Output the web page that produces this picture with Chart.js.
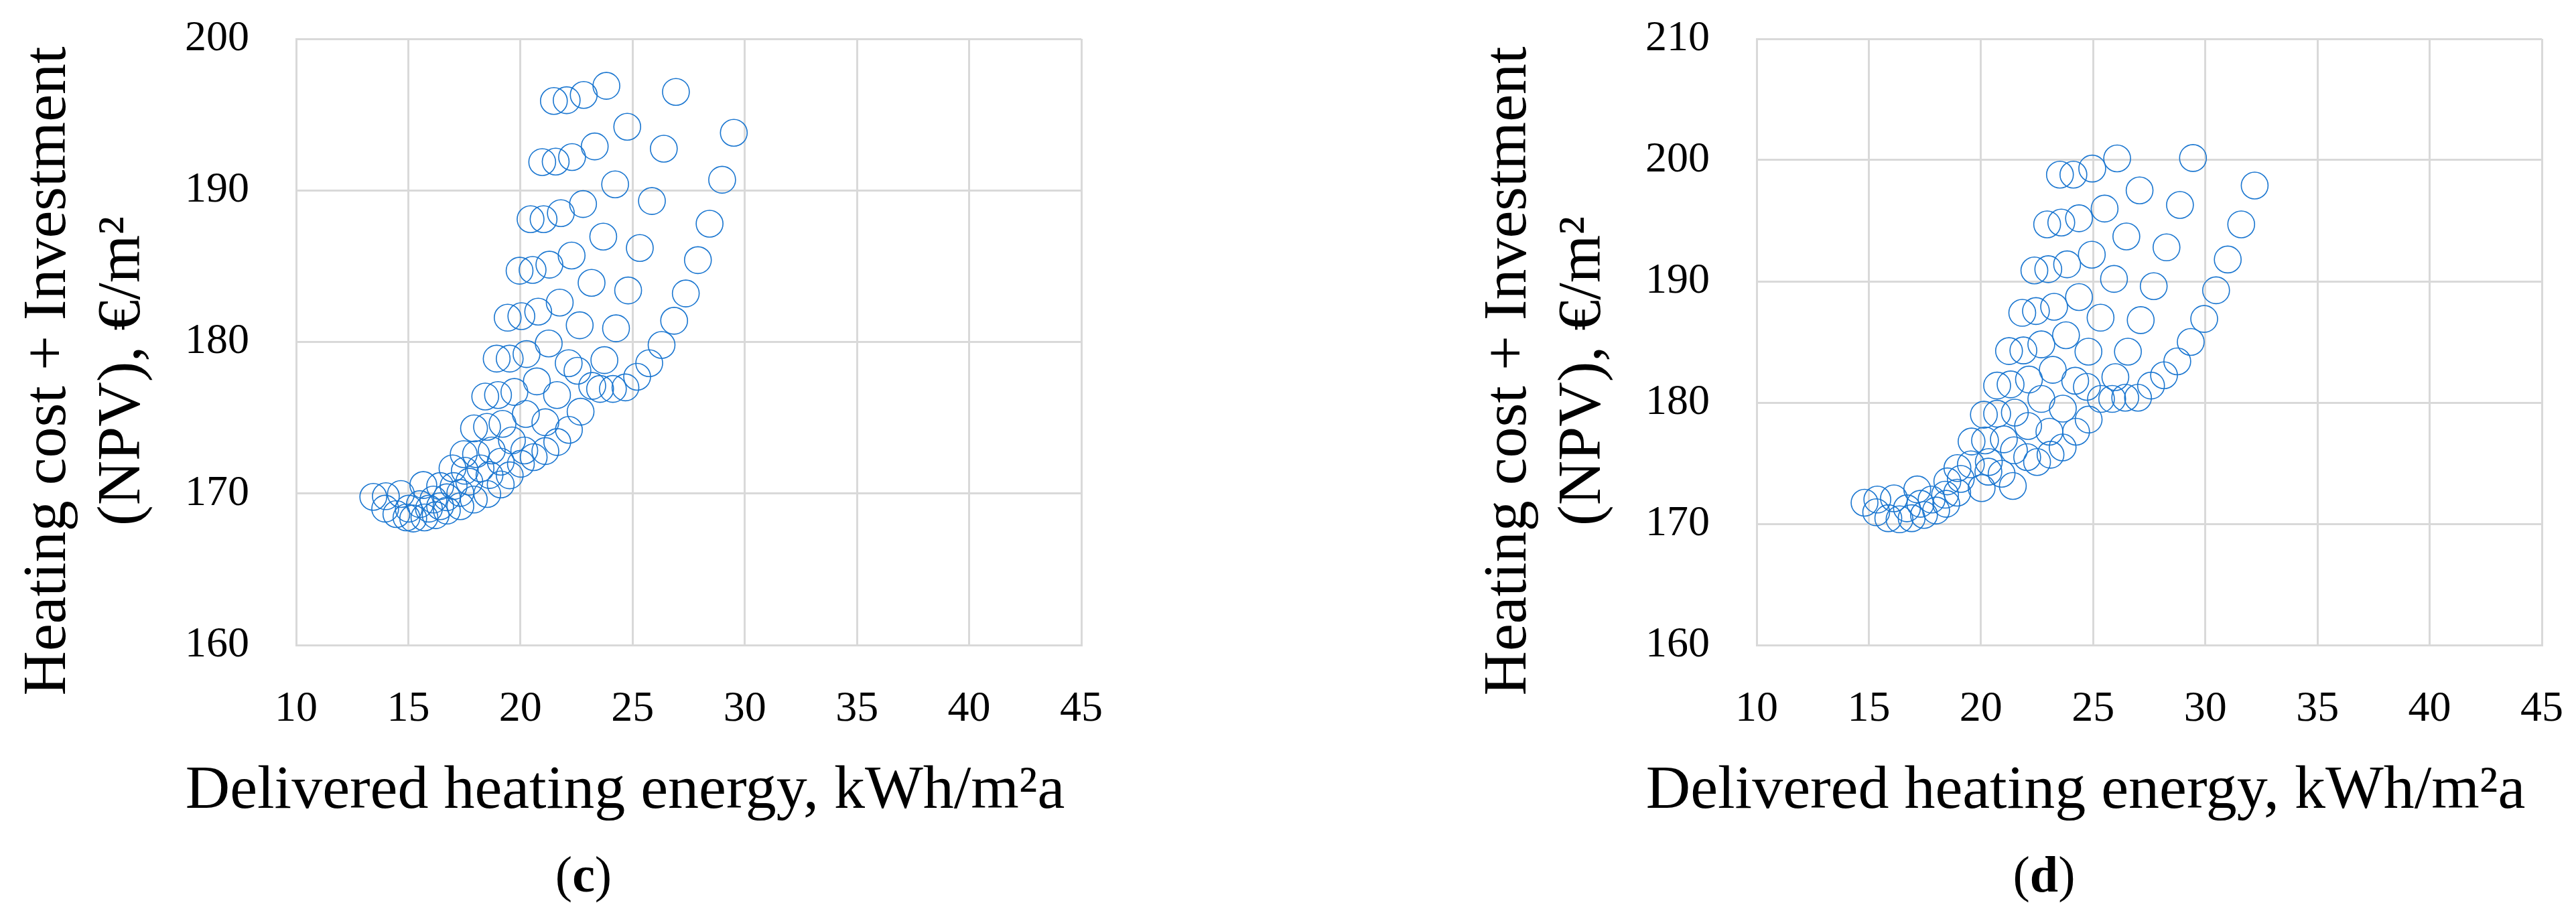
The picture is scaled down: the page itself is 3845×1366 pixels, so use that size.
<!DOCTYPE html>
<html>
<head>
<meta charset="utf-8">
<script src="https://cdn.jsdelivr.net/npm/chart.js@4.4.0/dist/chart.umd.min.js"></script>
<style>
  body { margin: 0; width: 3845px; height: 1366px; background: #fff; overflow: hidden; position: relative; }
  canvas { position: absolute; top: 0; }
</style>
</head>
<body>
<canvas id="chartC" width="1665" height="1366" style="left:0px"></canvas>
<canvas id="chartD" width="1665" height="1366" style="left:2180px"></canvas>
<script>
// ---- data ----
const xTickValues = [10, 15, 20, 25, 30, 35, 40, 45];
const yTicksC = [160, 170, 180, 190, 200];
const yTicksD = [160, 170, 180, 190, 200, 210];

const xTitle = "Delivered heating energy, kWh/m\u00B2a";
const yTitleLines = ["Heating cost + Investment", "(NPV), \u20AC/m\u00B2"];

// panel (c)
const energyC = [
  21.49, 22.06, 22.82, 23.83, 26.93, 24.76, 29.51, 26.39,
  20.97, 21.57, 22.30, 23.31, 24.22, 28.99, 25.86,
  20.45, 21.03, 21.80, 22.79, 23.69, 28.43, 25.32,
  19.96, 20.54, 21.29, 22.28, 23.17, 27.91, 24.80,
  19.43, 20.04, 20.79, 21.75, 22.64, 27.37, 24.26, 26.85,
  18.94, 19.52, 20.27, 21.26, 26.29, 25.74, 23.74, 22.15, 22.54, 25.20, 24.68, 24.12, 23.55, 23.20, 20.73, 21.63,
  18.43, 19.00, 19.73, 20.24, 22.68, 21.11, 22.16, 21.64, 21.11, 20.59, 17.93, 18.51, 19.20,
  17.47, 18.02, 18.72, 19.62, 20.17, 20.02, 16.97, 17.52, 18.22, 19.12, 19.52,
  15.67, 16.42, 17.02, 17.72, 18.62, 19.12,
  18.52, 17.92, 17.32, 16.72, 16.22, 15.72, 15.22, 14.92, 14.47, 13.97, 13.44, 14.00, 14.67,
  16.12, 16.72, 17.32, 15.52, 15.02, 15.92, 16.42
];
const costC = [
  195.9, 195.95, 196.3, 196.9, 196.5, 194.2, 193.8, 192.75,
  191.87, 191.9, 192.2, 192.9, 190.4, 190.7, 189.3,
  188.1, 188.1, 188.5, 189.1, 186.95, 187.8, 186.2,
  184.7, 184.75, 185.1, 185.7, 183.9, 185.4, 183.4,
  181.6, 181.7, 182.0, 182.6, 181.1, 183.2, 180.9, 181.4,
  178.9, 178.9, 179.2, 179.9, 179.8, 178.6, 178.8, 178.6, 178.1, 177.7, 177.0, 176.9, 176.9, 177.1, 177.4, 176.5,
  176.4, 176.5, 176.7, 175.25, 175.4, 174.7, 174.2, 173.4, 172.8, 172.4, 174.3, 174.4, 174.6,
  172.6, 172.6, 172.84, 173.5, 172.84, 171.96, 171.66, 171.5, 171.66, 172.1, 171.2,
  170.56, 170.49, 170.49, 170.78, 171.22, 170.6,
  169.97, 169.6, 169.16, 168.87, 168.57, 168.42, 168.35, 168.42, 168.64, 169.0, 169.78, 169.82, 169.97,
  169.6, 169.75, 170.04, 169.3, 169.0, 169.0, 169.16
];

// panel (d)
const energyD = [
  23.52, 24.12, 24.96, 26.07, 29.45, 27.07, 28.87, 32.2,
  22.95, 23.58, 24.37, 25.51, 26.48, 28.27, 31.6,
  22.38, 23.00, 23.84, 24.94, 25.93, 27.70, 30.48, 31.0,
  21.84, 22.45, 23.26, 24.37, 25.33, 27.12, 29.95,
  21.25, 21.89, 22.69, 23.79, 24.79, 26.55, 29.35,
  28.75, 28.16, 27.58, 27.00, 26.43, 25.85, 25.35, 25.99, 24.72, 24.20, 23.20,
  20.72, 21.32, 22.14, 22.69, 23.65, 24.80, 24.24, 23.05, 22.10, 20.13, 20.72, 21.51,
  23.64, 23.10, 22.50, 22.06, 21.47, 19.58, 20.18, 21.02,
  20.92, 21.42, 20.33, 18.95, 19.55, 20.35, 18.50, 19.10,
  20.03, 18.94, 18.40, 17.80, 17.30, 16.70, 18.45, 18.00, 17.46, 16.91, 16.37, 15.87, 15.33, 14.81, 15.38, 16.12, 17.16
];
const costD = [
  198.8, 198.8, 199.3, 200.14, 200.17, 197.5, 196.3, 197.9,
  194.7, 194.85, 195.2, 196.0, 193.7, 192.8, 194.7,
  190.9, 191.0, 191.4, 192.2, 190.2, 189.6, 189.26, 191.8,
  187.4, 187.55, 187.9, 188.7, 187.0, 186.8, 186.9,
  184.25, 184.3, 184.8, 185.55, 184.2, 184.2, 185.0,
  183.4, 182.25, 181.4, 180.4, 180.4, 180.3, 180.3, 182.1, 181.3, 181.8, 182.7,
  181.4, 181.5, 181.9, 180.3, 179.5, 178.6, 177.6, 177.6, 178.07, 179.0, 179.08, 179.17,
  176.3, 175.7, 175.1, 175.5, 176.06, 176.79, 176.88, 176.97,
  174.13, 173.12, 174.3, 174.6, 174.9, 175.1, 173.5, 173.7,
  172.94, 172.57, 172.4, 172.0, 171.65, 171.28, 171.65, 171.1, 170.73, 170.46, 170.37, 170.46, 170.95, 171.74, 172.0, 172.1, 172.84
];

// ---- styling ----
const FONT = '"Liberation Serif", "Times New Roman", serif';
const gridColor = "#d9d9d9";
const markerColor = "#1a76d0";

// axis titles and panel letter, placed like the original layout
const titlesPlugin = {
  id: "panelTitles",
  afterDraw(chart, args, opts) {
    const ctx = chart.ctx;
    ctx.save();
    ctx.fillStyle = "#000";
    ctx.textAlign = "center";
    ctx.textBaseline = "alphabetic";
    ctx.font = "92px " + FONT;
    ctx.fillText(xTitle, 933, 1206);

    const baselines = [97, 208];
    yTitleLines.forEach((line, i) => {
      ctx.save();
      ctx.translate(baselines[i], 554);
      ctx.rotate(-Math.PI / 2);
      ctx.fillText(line, 0, 0);
      ctx.restore();
    });

    // "(c)" with bold letter
    ctx.textAlign = "left";
    const reg = "76px " + FONT;
    const bold = "bold 76px " + FONT;
    ctx.font = reg;
    const wp = ctx.measureText("(").width;
    const wq = ctx.measureText(")").width;
    ctx.font = bold;
    const wl = ctx.measureText(opts.letter).width;
    let x = 871 - (wp + wl + wq) / 2;
    ctx.font = reg;
    ctx.fillText("(", x, 1331);
    x += wp;
    ctx.font = bold;
    ctx.fillText(opts.letter, x, 1331);
    x += wl;
    ctx.font = reg;
    ctx.fillText(")", x, 1331);
    ctx.restore();
  }
};

function makeChart(id, xs, ys, yTicks, letter) {
  const points = xs.map((x, i) => ({ x: x, y: ys[i] }));
  return new Chart(document.getElementById(id).getContext("2d"), {
    type: "scatter",
    data: {
      datasets: [{
        data: points,
        pointStyle: "circle",
        pointRadius: 20,
        pointBorderWidth: 1.6,
        pointBorderColor: markerColor,
        pointBackgroundColor: "rgba(0,0,0,0)",
        showLine: false
      }]
    },
    plugins: [titlesPlugin],
    options: {
      responsive: false,
      animation: false,
      events: [],
      layout: { padding: { left: 0, top: 58, right: 51, bottom: 0 } },
      plugins: {
        legend: { display: false },
        tooltip: { enabled: false },
        panelTitles: { letter: letter }
      },
      scales: {
        x: {
          type: "linear",
          min: xTickValues[0],
          max: xTickValues[xTickValues.length - 1],
          afterBuildTicks: (s) => { s.ticks = xTickValues.map(v => ({ value: v })); },
          afterFit: (s) => { s.height = 403; },
          // invisible tick marks keep the labels off the axis without extra layout padding
          grid: { color: gridColor, lineWidth: 3, drawTicks: true, tickLength: 58, tickColor: "rgba(0,0,0,0)" },
          border: { color: gridColor, width: 3 },
          ticks: { padding: 0, color: "#000", maxRotation: 0, font: { family: FONT, size: 64 } }
        },
        y: {
          type: "linear",
          min: yTicks[0],
          max: yTicks[yTicks.length - 1],
          afterBuildTicks: (s) => { s.ticks = yTicks.map(v => ({ value: v })); },
          afterFit: (s) => { s.width = 442; },
          grid: { color: gridColor, lineWidth: 3, drawTicks: true, tickLength: 70, tickColor: "rgba(0,0,0,0)" },
          border: { color: gridColor, width: 3 },
          ticks: { padding: 0, color: "#000", font: { family: FONT, size: 64 } }
        }
      }
    }
  });
}

makeChart("chartC", energyC, costC, yTicksC, "c");
makeChart("chartD", energyD, costD, yTicksD, "d");
</script>
</body>
</html>
